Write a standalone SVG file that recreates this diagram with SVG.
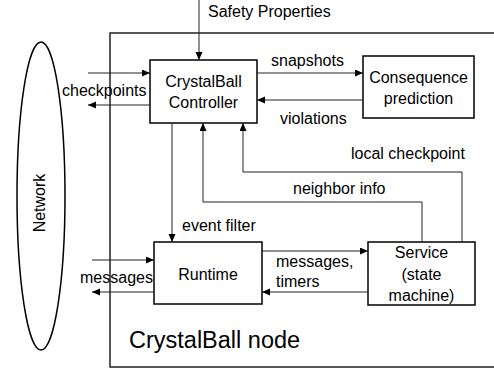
<svg xmlns="http://www.w3.org/2000/svg" width="494" height="370" viewBox="0 0 494 370">
<defs>
<style>
text{font-family:"Liberation Sans",Arial,sans-serif;font-size:16px;fill:#000}
.box{fill:#fff;stroke:#000;stroke-width:1.5}
.c{text-anchor:middle}
.conn path{fill:none;stroke:#222;stroke-width:1}
</style>
<marker id="ah" markerUnits="userSpaceOnUse" markerWidth="9" markerHeight="8" refX="8" refY="3.5" orient="auto">
<path d="M0,0 L8,3.5 L0,7 z" fill="#000"/>
</marker>
</defs>
<rect width="494" height="370" fill="#fff"/>
<g id="crystalball-node">
<rect x="110" y="33" width="400" height="334" fill="none" stroke="#222" stroke-width="1.5"/>
<text x="129" y="348" style="font-size:23.5px">CrystalBall node</text>
</g>
<g id="network">
<ellipse cx="41" cy="196" rx="24" ry="154" fill="none" stroke="#000" stroke-width="1.5"/>
<text class="c" transform="translate(45,203) rotate(-90)">Network</text>
</g>
<g id="controller">
<rect class="box" x="150" y="60" width="107" height="63"/>
<text class="c" x="203.5" y="87">CrystalBall</text>
<text class="c" x="203.5" y="108">Controller</text>
</g>
<g id="consequence">
<rect class="box" x="363" y="56" width="111" height="62"/>
<text class="c" x="418.5" y="83">Consequence</text>
<text class="c" x="418.5" y="104">prediction</text>
</g>
<g id="runtime">
<rect class="box" x="154" y="242" width="108" height="62"/>
<text class="c" x="208" y="280">Runtime</text>
</g>
<g id="service">
<rect class="box" x="368" y="242" width="107" height="63"/>
<text class="c" x="421.5" y="258">Service</text>
<text class="c" x="421.5" y="280">(state</text>
<text class="c" x="421.5" y="301">machine)</text>
</g>
<g id="connectors" class="conn">
<path d="M199,0 V60" marker-end="url(#ah)"/>
<path d="M88,73 H150" marker-end="url(#ah)"/>
<path d="M150,105 H88" marker-end="url(#ah)"/>
<path d="M257,73 H363" marker-end="url(#ah)"/>
<path d="M363,100 H257" marker-end="url(#ah)"/>
<path d="M462,242 V172 H243 V123" marker-end="url(#ah)"/>
<path d="M422,242 V202 H203 V123" marker-end="url(#ah)"/>
<path d="M172,123 V242" marker-end="url(#ah)"/>
<path d="M92,260 H154" marker-end="url(#ah)"/>
<path d="M154,292 H92" marker-end="url(#ah)"/>
<path d="M262,251 H368" marker-end="url(#ah)"/>
<path d="M368,292 H262" marker-end="url(#ah)"/>
</g>
<g id="labels">
<text x="208" y="17">Safety Properties</text>
<text x="62" y="96">checkpoints</text>
<text x="271" y="66">snapshots</text>
<text x="280" y="124">violations</text>
<text x="351" y="159">local checkpoint</text>
<text x="293" y="194">neighbor info</text>
<text x="182" y="231">event filter</text>
<text x="80" y="283">messages</text>
<text x="276" y="267">messages,</text>
<text x="276" y="287">timers</text>
</g>
</svg>
